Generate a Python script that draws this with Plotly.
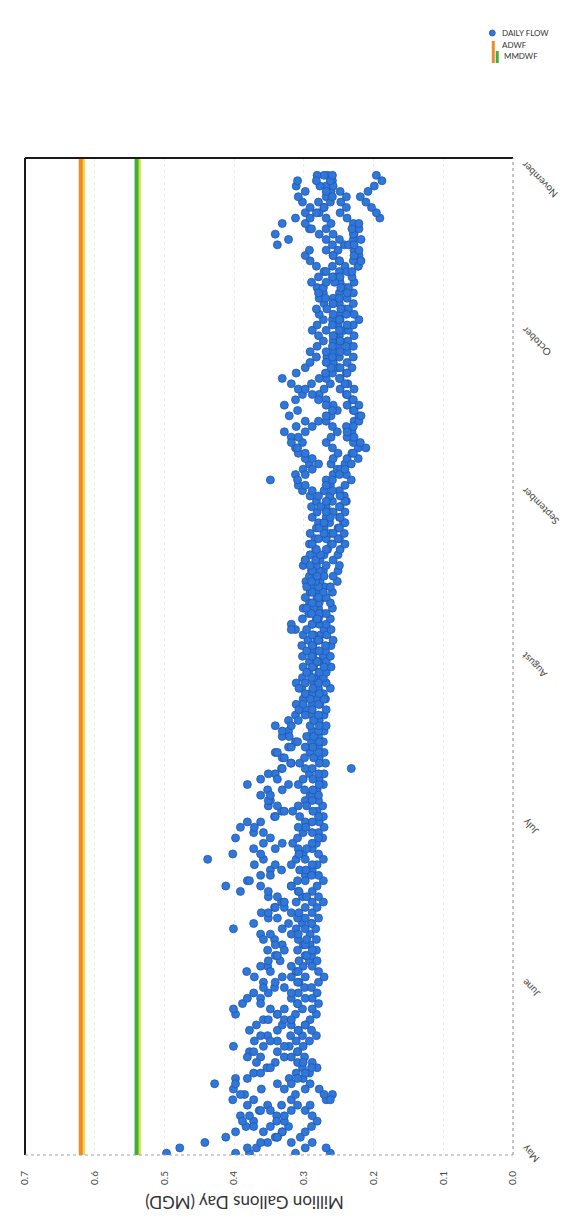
import plotly.graph_objects as go
import pandas as pd

# ---------------- data ----------------
start_date = "2019-05-01"

flow_a = [0.497, 0.478, 0.442, 0.412, 0.398, 0.383, 0.372, 0.391, 0.364, 0.352,
          0.402, 0.385, 0.361, 0.428, 0.398, 0.372, 0.353, 0.341, 0.362, 0.378,
          0.401, 0.371, 0.352, 0.338, 0.331, 0.358, 0.398, 0.401, 0.388, 0.362,
          0.351, 0.342, 0.358, 0.371, 0.382, 0.352, 0.334, 0.341, 0.352, 0.331,
          0.342, 0.362, 0.401, 0.372, 0.351, 0.361, 0.342, 0.332, 0.351, 0.391,
          0.412, 0.381, 0.362, 0.348, 0.371, 0.438, 0.402, 0.372, 0.358, 0.398,
          0.372, 0.391, 0.381, 0.342, 0.332, 0.351, 0.348, 0.362, 0.352, 0.381,
          0.362, 0.341, 0.332, 0.318, 0.331, 0.341, 0.322, 0.312, 0.331, 0.322,
          0.341, 0.322, 0.312, 0.302, 0.311, 0.301, 0.292, 0.303, 0.311, 0.302,
          0.293, 0.301, 0.292, 0.302, 0.291, 0.303, 0.294, 0.301, 0.312, 0.318,
          0.302, 0.293, 0.301, 0.292, 0.298, 0.291, 0.288, 0.297, 0.292, 0.289,
          0.301, 0.298, 0.291, 0.283, 0.292, 0.284, 0.291, 0.282, 0.279, 0.288,
          0.281, 0.289, 0.282, 0.291, 0.302, 0.308, 0.348, 0.312, 0.301, 0.292,
          0.298, 0.308, 0.312, 0.302, 0.318, 0.328, 0.311, 0.298, 0.321, 0.309,
          0.328, 0.312, 0.302, 0.308, 0.318, 0.331, 0.311, 0.298, 0.291, 0.282,
          0.291, 0.281, 0.272, 0.279, 0.288, 0.281, 0.272, 0.278, 0.282, 0.271,
          0.278, 0.272, 0.281, 0.289, 0.279, 0.271, 0.282, 0.291, 0.298, 0.292,
          0.338, 0.322, 0.341, 0.292, 0.331, 0.312, 0.298, 0.291, 0.302, 0.308,
          0.298, 0.311, 0.309, 0.281]

flow_b = [0.378, 0.368, 0.352, 0.341, 0.331, 0.322, 0.328, 0.339, 0.348, 0.332,
          0.318, 0.312, 0.328, 0.338, 0.321, 0.311, 0.302, 0.309, 0.328, 0.338,
          0.321, 0.311, 0.302, 0.308, 0.318, 0.328, 0.312, 0.302, 0.309, 0.318,
          0.308, 0.299, 0.307, 0.318, 0.311, 0.301, 0.292, 0.298, 0.309, 0.301,
          0.308, 0.318, 0.311, 0.302, 0.309, 0.318, 0.328, 0.311, 0.302, 0.308,
          0.318, 0.309, 0.298, 0.306, 0.318, 0.311, 0.301, 0.308, 0.316, 0.309,
          0.301, 0.308, 0.298, 0.306, 0.316, 0.308, 0.298, 0.291, 0.299, 0.308,
          0.301, 0.292, 0.298, 0.306, 0.299, 0.291, 0.298, 0.289, 0.296, 0.288,
          0.291, 0.282, 0.289, 0.296, 0.288, 0.281, 0.288, 0.279, 0.286, 0.281,
          0.278, 0.286, 0.281, 0.272, 0.279, 0.287, 0.281, 0.276, 0.271, 0.278,
          0.282, 0.274, 0.279, 0.283, 0.272, 0.278, 0.271, 0.277, 0.281, 0.272,
          0.268, 0.277, 0.271, 0.266, 0.261, 0.268, 0.262, 0.271, 0.263, 0.268,
          0.261, 0.268, 0.259, 0.263, 0.271, 0.262, 0.268, 0.258, 0.252, 0.261,
          0.258, 0.251, 0.259, 0.268, 0.261, 0.252, 0.259, 0.268, 0.261, 0.252,
          0.258, 0.268, 0.278, 0.271, 0.262, 0.268, 0.259, 0.251, 0.258, 0.267,
          0.259, 0.251, 0.258, 0.249, 0.242, 0.251, 0.259, 0.248, 0.241, 0.249,
          0.258, 0.249, 0.241, 0.248, 0.257, 0.249, 0.241, 0.249, 0.258, 0.251,
          0.242, 0.249, 0.258, 0.268, 0.261, 0.268, 0.278, 0.271, 0.279, 0.268,
          0.261, 0.268, 0.259, 0.266]

flow_c = [0.262, 0.268, 0.288, 0.305, 0.298, 0.289, 0.281, 0.288, 0.298, 0.291,
          0.268, 0.259, 0.278, 0.291, 0.301, 0.292, 0.281, 0.288, 0.299, 0.309,
          0.301, 0.292, 0.282, 0.289, 0.298, 0.291, 0.282, 0.288, 0.279, 0.288,
          0.281, 0.289, 0.279, 0.271, 0.279, 0.288, 0.281, 0.289, 0.282, 0.291,
          0.282, 0.291, 0.283, 0.289, 0.279, 0.288, 0.281, 0.272, 0.279, 0.288,
          0.281, 0.272, 0.279, 0.288, 0.281, 0.272, 0.279, 0.288, 0.282, 0.273,
          0.279, 0.271, 0.278, 0.272, 0.281, 0.273, 0.279, 0.288, 0.281, 0.272,
          0.278, 0.271, 0.232, 0.269, 0.278, 0.271, 0.279, 0.272, 0.279, 0.271,
          0.268, 0.278, 0.271, 0.268, 0.277, 0.269, 0.272, 0.262, 0.268, 0.272,
          0.268, 0.261, 0.268, 0.262, 0.269, 0.261, 0.258, 0.267, 0.261, 0.268,
          0.262, 0.268, 0.259, 0.262, 0.268, 0.259, 0.262, 0.252, 0.258, 0.251,
          0.249, 0.258, 0.251, 0.248, 0.241, 0.249, 0.242, 0.251, 0.243, 0.249,
          0.241, 0.248, 0.239, 0.242, 0.249, 0.241, 0.232, 0.239, 0.247, 0.241,
          0.238, 0.231, 0.222, 0.229, 0.238, 0.231, 0.239, 0.228, 0.221, 0.229,
          0.238, 0.231, 0.239, 0.228, 0.237, 0.248, 0.239, 0.231, 0.238, 0.229,
          0.238, 0.229, 0.237, 0.228, 0.236, 0.229, 0.221, 0.228, 0.236, 0.229,
          0.238, 0.229, 0.236, 0.228, 0.231, 0.238, 0.222, 0.229, 0.221, 0.228,
          0.236, 0.229, 0.228, 0.221, 0.229, 0.238, 0.248, 0.239, 0.247, 0.239,
          0.248, 0.258, 0.262, 0.259]

flow_d = [0.398, 0.381, 0.362, 0.338, 0.331, 0.348, 0.339, 0.328, 0.318, 0.309,
          0.262, 0.271, 0.298, 0.318, 0.309, 0.298, 0.289, 0.301, 0.318, 0.309,
          0.328, 0.338, 0.319, 0.308, 0.298, 0.318, 0.338, 0.328, 0.309, 0.298,
          0.318, 0.328, 0.309, 0.298, 0.308, 0.318, 0.307, 0.296, 0.288, 0.298,
          0.296, 0.308, 0.298, 0.289, 0.298, 0.307, 0.298, 0.288, 0.296, 0.307,
          0.318, 0.298, 0.289, 0.297, 0.288, 0.298, 0.307, 0.296, 0.288, 0.279,
          0.288, 0.297, 0.288, 0.279, 0.287, 0.296, 0.288, 0.279, 0.287, 0.278,
          0.287, 0.279, 0.288, 0.278, 0.286, 0.279, 0.287, 0.278, 0.286, 0.279,
          0.278, 0.286, 0.279, 0.288, 0.279, 0.271, 0.278, 0.287, 0.279, 0.286,
          0.278, 0.271, 0.279, 0.287, 0.278, 0.269, 0.278, 0.286, 0.318, 0.288,
          0.279, 0.278, 0.286, 0.278, 0.281, 0.272, 0.279, 0.283, 0.271, 0.278,
          0.282, 0.298, 0.279, 0.268, 0.259, 0.251, 0.258, 0.249, 0.241, 0.248,
          0.258, 0.249, 0.241, 0.248, 0.259, 0.268, 0.259, 0.249, 0.241, 0.232,
          0.222, 0.229, 0.211, 0.219, 0.228, 0.238, 0.229, 0.221, 0.218, 0.228,
          0.221, 0.229, 0.238, 0.248, 0.241, 0.249, 0.238, 0.248, 0.258, 0.249,
          0.248, 0.239, 0.248, 0.257, 0.249, 0.238, 0.248, 0.239, 0.247, 0.258,
          0.249, 0.238, 0.247, 0.256, 0.248, 0.231, 0.222, 0.218, 0.228, 0.221,
          0.228, 0.218, 0.229, 0.231, 0.221, 0.191, 0.196, 0.203, 0.211, 0.219,
          0.208, 0.199, 0.188, 0.196]

flow_e = [0.312, 0.298, 0.318, 0.338, 0.358, 0.372, 0.388, 0.378, 0.362, 0.381,
          0.372, 0.391, 0.401, 0.398, 0.381, 0.362, 0.348, 0.368, 0.381, 0.372,
          0.358, 0.348, 0.362, 0.378, 0.368, 0.351, 0.338, 0.348, 0.362, 0.381,
          0.372, 0.358, 0.341, 0.331, 0.348, 0.362, 0.351, 0.338, 0.328, 0.341,
          0.358, 0.348, 0.331, 0.322, 0.338, 0.351, 0.341, 0.328, 0.338, 0.351,
          0.362, 0.378, 0.348, 0.332, 0.341, 0.358, 0.362, 0.341, 0.331, 0.348,
          0.358, 0.371, 0.362, 0.341, 0.328, 0.338, 0.351, 0.348, 0.331, 0.322,
          0.338, 0.351, 0.331, 0.319, 0.328, 0.338, 0.318, 0.309, 0.321, 0.331,
          0.318, 0.308, 0.298, 0.307, 0.301, 0.291, 0.298, 0.307, 0.298, 0.289,
          0.296, 0.288, 0.281, 0.289, 0.296, 0.288, 0.279, 0.288, 0.296, 0.288,
          0.281, 0.289, 0.296, 0.288, 0.279, 0.288, 0.296, 0.289, 0.281, 0.288,
          0.291, 0.283, 0.276, 0.282, 0.288, 0.279, 0.271, 0.278, 0.271, 0.262,
          0.268, 0.276, 0.268, 0.279, 0.288, 0.298, 0.309, 0.298, 0.288, 0.279,
          0.288, 0.298, 0.309, 0.318, 0.308, 0.298, 0.288, 0.279, 0.268, 0.259,
          0.268, 0.279, 0.288, 0.298, 0.289, 0.278, 0.269, 0.261, 0.268, 0.259,
          0.268, 0.259, 0.248, 0.258, 0.268, 0.259, 0.249, 0.258, 0.267, 0.258,
          0.269, 0.279, 0.272, 0.268, 0.259, 0.268, 0.259, 0.249, 0.258, 0.268,
          0.259, 0.268, 0.278, 0.289, 0.298, 0.291, 0.282, 0.271, 0.262, 0.259,
          0.268, 0.277, 0.282, 0.271]

adwf = 0.62
mmdwf = 0.54

month_names = ["May", "June", "July", "August", "September", "October", "November"]
month_starts = ["2019-05-01", "2019-06-01", "2019-07-01", "2019-08-01",
                "2019-09-01", "2019-10-01", "2019-11-01"]

flow_ticks = [0.0, 0.1, 0.2, 0.3, 0.4, 0.5, 0.6, 0.7]
flow_tick_text = ["0.0", "0.1", "0.2", "0.3", "0.4", "0.5", "0.6", "0.7"]

date_range = ["2019-04-30 16:00", "2019-11-03 06:00"]

# ---------------- figure ----------------
# the page body adds an 8px offset, so the figure is drawn 8px smaller
OFF = 8
W, H = 581 - OFF, 1226 - OFF
ML, MR, MT, MB = 18 - OFF, 68, 158 - OFF, 71
PW, PH = W - ML - MR, H - MT - MB


def px_x(px):
    return (px - OFF - ML) / PW


def px_y(py):
    return (H - MB - (py - OFF)) / PH


FONT = "Lato, 'Open Sans', sans-serif"
DOT = "#2f78d9"
DOT_EDGE = "#2156ae"

fig = go.Figure()

# reference lines (drawn first, under points)
fig.add_shape(type="line", xref="x", yref="paper", x0=adwf - 0.004, x1=adwf - 0.004,
              y0=0, y1=1, line=dict(color="#f5d840", width=3), layer="below")
fig.add_shape(type="line", xref="x", yref="paper", x0=adwf, x1=adwf,
              y0=0, y1=1, line=dict(color="#ef8a25", width=4), layer="below")
fig.add_shape(type="line", xref="x", yref="paper", x0=mmdwf - 0.004, x1=mmdwf - 0.004,
              y0=0, y1=1, line=dict(color="#d8e040", width=3), layer="below")
fig.add_shape(type="line", xref="x", yref="paper", x0=mmdwf, x1=mmdwf,
              y0=0, y1=1, line=dict(color="#3fae3f", width=4), layer="below")

for series in [flow_a, flow_b, flow_c, flow_d, flow_e]:
    dates = pd.date_range(start_date, periods=len(series), freq="D")
    fig.add_trace(go.Scatter(
        x=series, y=dates, mode="markers",
        marker=dict(size=8, color=DOT, line=dict(color=DOT_EDGE, width=0.8)),
        showlegend=False, hoverinfo="skip", cliponaxis=True))

# plot frame
fig.add_shape(type="line", xref="paper", yref="paper", x0=0, x1=1, y0=1, y1=1,
              line=dict(color="#1a1a1a", width=2))
fig.add_shape(type="line", xref="paper", yref="paper", x0=0, x1=0, y0=0, y1=1,
              line=dict(color="#1a1a1a", width=2))
fig.add_shape(type="line", xref="paper", yref="paper", x0=0, x1=1, y0=0, y1=0,
              line=dict(color="#a0a0a0", width=1, dash="dot"))
fig.add_shape(type="line", xref="paper", yref="paper", x0=1, x1=1, y0=0, y1=1,
              line=dict(color="#8a8a8a", width=1, dash="dot"))

# month labels (rotated, along the right side)
for name, d in zip(month_names, month_starts):
    fig.add_annotation(text=name, x=1, xref="paper", xshift=3, y=d, yref="y",
                       yshift=14, xanchor="left", yanchor="top", textangle=-135,
                       showarrow=False, font=dict(family=FONT, size=10, color="#444"))

# axis title (upside down)
fig.add_annotation(text="Million Gallons Day (MGD)", x=px_x(240), y=px_y(1203),
                   xref="paper", yref="paper", xanchor="center", yanchor="middle",
                   showarrow=False, textangle=180,
                   font=dict(family=FONT, size=17, color="#333"))

# legend (top right)
fig.add_shape(type="circle", xref="paper", yref="paper",
              x0=px_x(489), x1=px_x(495), y0=px_y(36), y1=px_y(30),
              fillcolor=DOT, line=dict(color=DOT_EDGE, width=0.8))
fig.add_annotation(text="DAILY FLOW", x=px_x(500), y=px_y(33), xref="paper", yref="paper",
                   xanchor="left", yanchor="middle", showarrow=False,
                   font=dict(family=FONT, size=8, color="#333"))
fig.add_shape(type="line", xref="paper", yref="paper",
              x0=px_x(493), x1=px_x(493), y0=px_y(41), y1=px_y(63),
              line=dict(color="#ef8a25", width=3))
fig.add_annotation(text="ADWF", x=px_x(500), y=px_y(45), xref="paper", yref="paper",
                   xanchor="left", yanchor="middle", showarrow=False,
                   font=dict(family=FONT, size=8, color="#333"))
fig.add_shape(type="line", xref="paper", yref="paper",
              x0=px_x(497), x1=px_x(497), y0=px_y(51), y1=px_y(63),
              line=dict(color="#3fae3f", width=3))
fig.add_annotation(text="MMDWF", x=px_x(502), y=px_y(56), xref="paper", yref="paper",
                   xanchor="left", yanchor="middle", showarrow=False,
                   font=dict(family=FONT, size=8, color="#333"))

fig.update_layout(
    width=W, height=H, autosize=False,
    margin=dict(l=ML, r=MR, t=MT, b=MB, pad=0),
    paper_bgcolor="white", plot_bgcolor="white",
    showlegend=False,
    xaxis=dict(range=[0.7, 0.0], tickvals=flow_ticks, ticktext=flow_tick_text,
               tickangle=-90, ticks="outside", ticklen=11, tickcolor="rgba(0,0,0,0)",
               tickfont=dict(family=FONT, size=10, color="#444"),
               showgrid=True, gridcolor="#ececec", griddash="dot", gridwidth=1,
               zeroline=False, showline=False, fixedrange=True),
    yaxis=dict(type="date", range=date_range, showticklabels=False, showgrid=False,
               zeroline=False, showline=False, ticks="", fixedrange=True),
)

fig.write_html("out.html")
